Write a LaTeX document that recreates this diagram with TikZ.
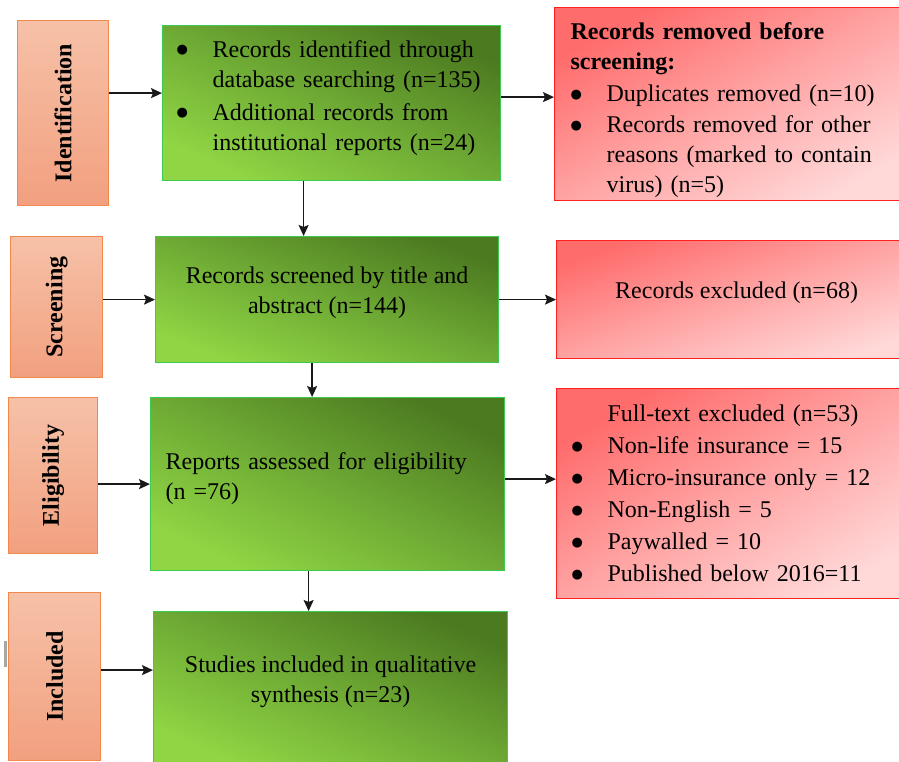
\documentclass[tikz,border=0pt]{standalone}
\usepackage{fontspec}
\setmainfont{Liberation Serif}
\newfontfamily\symfont{DejaVu Sans}
\usetikzlibrary{arrows.meta}
\definecolor{grdark}{HTML}{4C7A20}
\definecolor{grmid}{HTML}{6EAA34}
\definecolor{grlight}{HTML}{90D644}
\definecolor{grborder}{HTML}{3CCB50}
\definecolor{ortop}{HTML}{F6C1A8}
\definecolor{orbot}{HTML}{F2A07F}
\definecolor{orborder}{HTML}{F2894A}
\definecolor{rdtop}{HTML}{FF6C6C}
\definecolor{rdmid}{HTML}{FFA4A4}
\definecolor{rdbot}{HTML}{FFD8D8}
\definecolor{rdborder}{HTML}{FF2020}
\newcommand{\bul}{\makebox[36pt][l]{\raisebox{3.5pt}{\fontsize{13}{13}\symfont ●}}}
\newcommand{\ind}{\hspace*{36pt}}
\tikzset{
  txt/.style={font=\fontsize{24}{30}\selectfont},
  stage/.style={txt, draw=orborder, line width=1.2pt, top color=ortop, bottom color=orbot,
    anchor=north west, inner sep=0pt},
  gbox/.style={txt, draw=grborder, line width=1.2pt, top color=grdark, bottom color=grlight,
    middle color=grmid, shading angle=-#1, anchor=north west},
  rbox/.style={txt, draw=rdborder, line width=1.2pt, top color=rdtop, bottom color=rdbot,
    middle color=rdmid, shading angle=#1, anchor=north west},
  up/.style={text depth=19pt},
  arr/.style={-{Stealth[length=11pt,width=10pt,inset=2pt]}, line width=1.5pt, draw=black!90}
}
\begin{document}
\begin{tikzpicture}[x=1pt,y=-1pt]
\useasboundingbox (0,0) rectangle (899,761);
\clip (0,0) rectangle (899,761);
% stage boxes
\node[stage, minimum width=91pt, minimum height=185pt] (id) at (17,20) {\rotatebox{90}{\textbf{Identification}}};
\node[stage, minimum width=92pt, minimum height=141pt] (sc) at (10,236) {\rotatebox{90}{\textbf{Screening}}};
\node[stage, minimum width=89pt, minimum height=156pt] (el) at (8,397) {\rotatebox{90}{\textbf{Eligibility}}};
\node[stage, minimum width=92pt, minimum height=168pt] (inc) at (8,592) {\rotatebox{90}{\textbf{Included}}};
% green boxes
\node[gbox=24.6, text depth=109pt, inner xsep=14pt, text width=310pt, minimum height=155pt, align=left] (g1) at (162,25)
  {\bul Records identified through\\ \ind database searching (n=135)\\[3pt]
   \bul Additional records from\\ \ind institutional reports (n=24)};
\node[gbox=20.2, up, minimum width=343pt, minimum height=126pt, align=center] (g2) at (155,236)
  {Records screened by title and\\ abstract (n=144)};
\node[gbox=26, text depth=47pt, inner xsep=15pt, text width=324pt, minimum height=173pt, align=left] (g3) at (150,397)
  {Reports assessed for eligibility\\ (n =76)};
\node[gbox=23.6, up, minimum width=354pt, minimum height=155pt, align=center] (g4) at (153,611)
  {Studies included in qualitative\\ synthesis (n=23)};
% red boxes
\node[rbox=29, text depth=146pt, inner xsep=16pt, text width=330pt, minimum height=193pt, align=left] (r1) at (554,7)
  {\textbf{Records removed before}\\ \textbf{screening:}\\[2pt]
   \bul Duplicates removed (n=10)\\[1pt]
   \bul Records removed for other\\ \ind reasons (marked to contain\\ \ind virus) (n=5)};
\node[rbox=19, up, minimum width=360pt, minimum height=118pt, align=center] (r2) at (556,240)
  {Records excluded (n=68)};
\node[rbox=31, inner xsep=15pt, text width=330pt, minimum height=210pt, align=left] (r3) at (556,388)
  {\ind Full-text excluded (n=53)\\[2pt]
   \bul Non-life insurance = 15\\[2pt]
   \bul Micro-insurance only = 12\\[2pt]
   \bul Non-English = 5\\[2pt]
   \bul Paywalled = 10\\[2pt]
   \bul Published below 2016=11};
% connector coordinates
\coordinate (a1) at ([yshift=10pt]g1.west);
\coordinate (a2) at ([yshift=6pt]g1.east);
\coordinate (a3) at ([xshift=-28pt]g1.south);
\coordinate (a4) at ([xshift=-15pt]g2.south);
\coordinate (a5) at ([yshift=5pt]g3.east);
\coordinate (a6) at ([xshift=-19pt]g3.south);
\coordinate (a7) at ([yshift=19pt]g4.west);
% connectors
\draw[arr] (id.east |- a1) -- (a1);
\draw[arr] (a2) -- (a2 -| r1.west);
\draw[arr] (a3) -- (a3 |- g2.north);
\draw[arr] (sc.east |- g2.west) -- (g2.west);
\draw[arr] (g2.east) -- (g2.east -| r2.west);
\draw[arr] (a4) -- (a4 |- g3.north);
\draw[arr] (el.east |- g3.west) -- (g3.west);
\draw[arr] (a5) -- (a5 -| r3.west);
\draw[arr] (a6) -- (a6 |- g4.north);
\draw[arr] (inc.east |- a7) -- (a7);
% small mark at left edge
\fill[gray!70] (4,641) rectangle (6.5,667);
\end{tikzpicture}
\end{document}
